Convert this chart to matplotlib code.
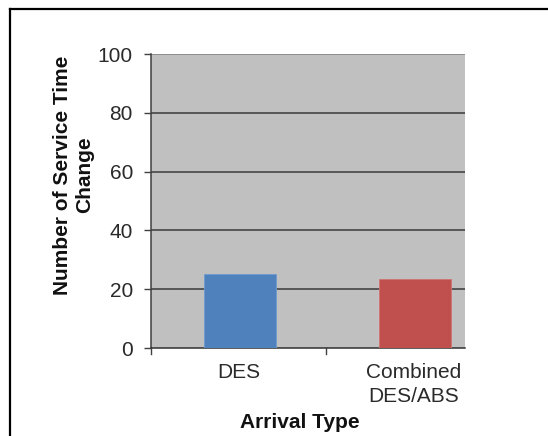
import matplotlib
matplotlib.use("Agg")
import matplotlib.pyplot as plt
from matplotlib.lines import Line2D

categories = ["DES", "Combined\nDES/ABS"]
values = [25.3, 23.5]
colors = ["#4F81BD", "#C0504D"]
yticks = [0, 20, 40, 60, 80, 100]

plt.rcParams['font.family'] = ['Liberation Sans', 'DejaVu Sans']

W, H = 548, 436
fig = plt.figure(figsize=(W / 100, H / 100), dpi=100)
ax = fig.add_axes([151 / W, (H - 348) / H, 314 / W, 294 / H])
ax.set_facecolor("#C0C0C0")

x = list(range(len(categories)))
ax.bar([xi + 0.008 for xi in x], values, width=0.41, color=colors, zorder=3, linewidth=0.6,
       edgecolor=["#6f9bd0", "#d07370"])

ax.set_xlim(-0.5, 1.295)
ax.set_ylim(0, 100)
ax.set_yticks(yticks)
ax.set_yticklabels([str(v) for v in yticks], fontsize=15, color="#2a2a2a")
ax.set_xticks(x)
ax.set_xticklabels(categories, fontsize=15, color="#2a2a2a", linespacing=1.3)
ax.tick_params(axis="x", length=0, pad=11)
ax.tick_params(axis="y", length=5, width=1, color="#404040", pad=8, direction="out")

# category separator ticks
for xv in [-0.5, 0.5]:
    ax.plot([xv, xv], [0, -2.2], color="#404040", lw=1, clip_on=False, zorder=4)

for yv in yticks[1:]:
    ax.axhline(yv, color="#808080" if yv == 100 else "#3a3a3a", lw=1.1, zorder=2)

for s in ["top", "right"]:
    ax.spines[s].set_visible(False)
ax.spines["left"].set_color("#404040")
ax.spines["bottom"].set_color("#303030")
ax.spines["left"].set_linewidth(1.1)
ax.spines["bottom"].set_linewidth(1.1)

fig.text(300 / W, (H - 422) / H, "Arrival Type", fontsize=15, fontweight="bold",
         ha="center", va="center", color="#111111")
fig.text(74 / W, (H - 175) / H, "Number of Service Time\nChange", fontsize=15,
         fontweight="bold", rotation=90, ha="center", va="center",
         multialignment="center", linespacing=1.2, color="#111111")

# outer frame (left and top edges visible)
fig.add_artist(Line2D([10 / W, 10 / W], [0, (H - 9) / H], color="black", lw=1.6,
                      transform=fig.transFigure))
fig.add_artist(Line2D([10 / W, 1.0], [(H - 9) / H, (H - 9) / H], color="black", lw=1.6,
                      transform=fig.transFigure))

fig.savefig("out.png", dpi=100)
